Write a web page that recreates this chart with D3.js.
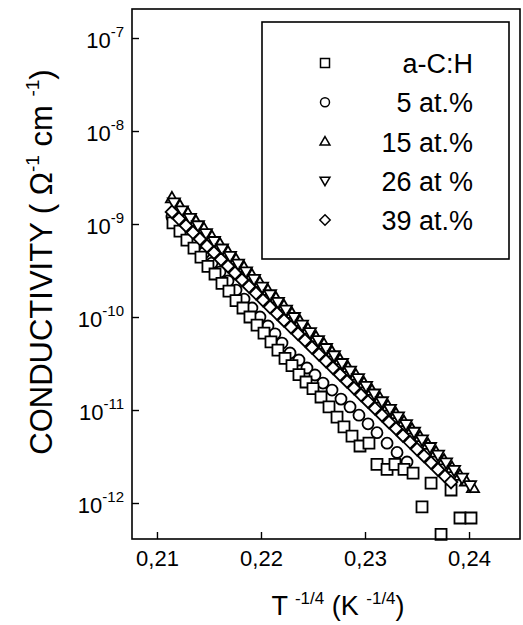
<!DOCTYPE html>
<html lang="en">
<head>
<meta charset="UTF-8">
<script src="https://cdnjs.cloudflare.com/ajax/libs/d3/7.8.5/d3.min.js"></script>
<title>Conductivity</title>
<style>
  body { margin: 0; background: #fff; }
  text { font-family: Arial, "Liberation Sans", sans-serif; fill: #000; }
</style>
</head>
<body>
<div id="chart"></div>
<script>
// x: T^-1/4, y: conductivity (ohm^-1 cm^-1)
const acH_x = [0.21154,0.21221,0.21288,0.21356,0.21423,0.21490,0.21558,0.21625,0.21692,0.21760,0.21827,0.21894,0.21962,0.22029,0.22096,0.22163,0.22231,0.22298,0.22365,0.22433,0.22500,0.22577,0.22654,0.22731,0.22798,0.22875,0.22952,0.23038,0.23115,0.23212,0.23288,0.23375,0.23462,0.23548,0.23635,0.23731,0.23827,0.23913,0.24019];
const acH_y = [1.03e-9,8.4e-10,6.7e-10,5.5e-10,4.4e-10,3.5e-10,2.9e-10,2.3e-10,1.9e-10,1.5e-10,1.25e-10,1.0e-10,8.2e-11,6.7e-11,5.4e-11,4.4e-11,3.6e-11,3.0e-11,2.4e-11,2.0e-11,1.7e-11,1.38e-11,1.08e-11,8.4e-12,6.6e-12,5.25e-12,4.1e-12,4.4e-12,2.6e-12,2.3e-12,2.6e-12,2.3e-12,2.1e-12,9.1e-13,1.64e-12,4.6e-13,1.38e-12,6.9e-13,6.9e-13];

const at5_x = [0.21144,0.21221,0.21298,0.21375,0.21452,0.21529,0.21606,0.21683,0.21760,0.21837,0.21913,0.21990,0.22067,0.22135,0.22202,0.22279,0.22365,0.22442,0.22519,0.22596,0.22683,0.22769,0.22856,0.22942,0.23029,0.23115,0.23212,0.23308,0.23404];
const at5_y = [1.19e-9,9.5e-10,7.6e-10,6.1e-10,4.9e-10,3.8e-10,3.05e-10,2.44e-10,1.95e-10,1.56e-10,1.25e-10,1.0e-10,8.0e-11,6.6e-11,5.25e-11,4.1e-11,3.45e-11,2.83e-11,2.38e-11,1.95e-11,1.64e-11,1.31e-11,1.08e-11,8.8e-12,7.1e-12,5.7e-12,4.4e-12,3.5e-12,2.76e-12];

const at15_x = [0.21144,0.21221,0.21298,0.21375,0.21452,0.21529,0.21606,0.21683,0.21760,0.21837,0.21913,0.21990,0.22067,0.22144,0.22221,0.22298,0.22375,0.22452,0.22529,0.22606,0.22683,0.22760,0.22837,0.22913,0.22990,0.23067,0.23144,0.23221,0.23298,0.23375,0.23452,0.23529,0.23606,0.23683,0.23760,0.23837,0.23913,0.23971,0.24038];
const at15_y = [1.91e-9,1.57e-9,1.30e-9,1.07e-9,8.9e-10,7.3e-10,6.1e-10,5.0e-10,4.14e-10,3.42e-10,2.83e-10,2.34e-10,1.93e-10,1.60e-10,1.32e-10,1.09e-10,9.0e-11,7.4e-11,6.1e-11,5.1e-11,4.2e-11,3.47e-11,2.86e-11,2.37e-11,1.95e-11,1.62e-11,1.34e-11,1.10e-11,9.1e-12,7.5e-12,6.2e-12,5.15e-12,4.26e-12,3.52e-12,2.90e-12,2.40e-12,1.98e-12,1.72e-12,1.46e-12];

const at26_x = [0.21163,0.21240,0.21317,0.21394,0.21471,0.21548,0.21625,0.21702,0.21779,0.21856,0.21933,0.22010,0.22087,0.22163,0.22240,0.22317,0.22394,0.22471,0.22548,0.22625,0.22702,0.22779,0.22856,0.22933,0.23010,0.23087,0.23163,0.23240,0.23317,0.23394,0.23471,0.23548,0.23625,0.23702,0.23779,0.23856,0.23933,0.24010];
const at26_y = [1.69e-9,1.39e-9,1.15e-9,9.6e-10,7.9e-10,6.5e-10,5.4e-10,4.49e-10,3.71e-10,3.07e-10,2.54e-10,2.10e-10,1.74e-10,1.44e-10,1.19e-10,9.9e-11,8.2e-11,6.8e-11,5.6e-11,4.6e-11,3.84e-11,3.17e-11,2.62e-11,2.18e-11,1.80e-11,1.49e-11,1.23e-11,1.02e-11,8.45e-12,6.98e-12,5.78e-12,4.79e-12,3.96e-12,3.28e-12,2.71e-12,2.25e-12,1.86e-12,1.54e-12];

const at39_x = [0.21144,0.21212,0.21279,0.21346,0.21413,0.21481,0.21548,0.21615,0.21683,0.21750,0.21817,0.21885,0.21952,0.22019,0.22087,0.22154,0.22221,0.22288,0.22356,0.22423,0.22490,0.22558,0.22625,0.22692,0.22760,0.22827,0.22894,0.22962,0.23029,0.23096,0.23163,0.23231,0.23298,0.23365,0.23433,0.23500,0.23567,0.23635,0.23702,0.23769,0.23827];
const at39_y = [1.35e-9,1.14e-9,9.6e-10,8.1e-10,6.9e-10,5.8e-10,4.92e-10,4.16e-10,3.52e-10,2.97e-10,2.51e-10,2.13e-10,1.80e-10,1.52e-10,1.28e-10,1.09e-10,9.2e-11,7.8e-11,6.6e-11,5.6e-11,4.7e-11,3.97e-11,3.36e-11,2.84e-11,2.40e-11,2.03e-11,1.72e-11,1.45e-11,1.23e-11,1.04e-11,8.8e-12,7.4e-12,6.3e-12,5.3e-12,4.5e-12,3.79e-12,3.21e-12,2.71e-12,2.29e-12,1.94e-12,1.68e-12];

const seriesNames = ['a-C:H', '5 at.%', '15 at.%', '26 at %', '39 at.%'];
const seriesShapes = ['square', 'circle', 'up', 'down', 'diamond'];
const xTicks = [0.21, 0.22, 0.23, 0.24];
const yExps = [-12, -11, -10, -9, -8, -7];

const width = 523, height = 625;
const pLeft = 132, pRight = 520, pTop = 9, pBottom = 539;

const xScale = d3.scaleLinear().domain([0.2076, 0.2449]).range([pLeft, pRight]);
const yScale = d3.scaleLog().domain([Math.pow(10, -12.387), Math.pow(10, -6.688)]).range([pBottom, pTop]);

// marker paths centred on 0,0
function shapePath(kind, s) {
  const h = s / 2;
  if (kind === 'square') return `M${-h},${-h}H${h}V${h}H${-h}Z`;
  if (kind === 'circle') return `M${h},0A${h},${h} 0 1,1 ${-h},0A${h},${h} 0 1,1 ${h},0Z`;
  if (kind === 'up') return `M0,${-h * 1.1}L${h * 1.1},${h * 0.8}L${-h * 1.1},${h * 0.8}Z`;
  if (kind === 'down') return `M0,${h * 1.1}L${h * 1.1},${-h * 0.8}L${-h * 1.1},${-h * 0.8}Z`;
  return `M0,${-h * 1.15}L${h * 1.15},0L0,${h * 1.15}L${-h * 1.15},0Z`;
}

const svg = d3.select('#chart').append('svg')
  .attr('width', width)
  .attr('height', height);

// data, drawn circles first so squares sit over them
const data = {
  'a-C:H': d3.zip(acH_x, acH_y),
  '5 at.%': d3.zip(at5_x, at5_y),
  '15 at.%': d3.zip(at15_x, at15_y),
  '26 at %': d3.zip(at26_x, at26_y),
  '39 at.%': d3.zip(at39_x, at39_y)
};
const drawOrder = [1, 0, 2, 3, 4];
drawOrder.forEach(i => {
  svg.append('g')
    .selectAll('path')
    .data(data[seriesNames[i]])
    .enter()
    .append('path')
    .attr('transform', d => `translate(${xScale(d[0])},${yScale(d[1])})`)
    .attr('d', shapePath(seriesShapes[i], 11))
    .attr('fill', '#fff')
    .attr('stroke', '#000')
    .attr('stroke-width', 1.8);
});

// frame
svg.append('rect')
  .attr('x', pLeft).attr('y', pTop)
  .attr('width', pRight - pLeft).attr('height', pBottom - pTop)
  .attr('fill', 'none').attr('stroke', '#000').attr('stroke-width', 1.6);

// x axis
const xAxis = svg.append('g')
  .attr('transform', `translate(0,${pBottom})`)
  .call(d3.axisBottom(xScale).tickValues(xTicks).tickSize(-7).tickPadding(11)
    .tickFormat(d => d.toFixed(2).replace('.', ',')));
xAxis.select('.domain').remove();
xAxis.selectAll('line').attr('stroke-width', 1.4);
xAxis.selectAll('text').style('font-size', '22px').style('font-family', 'Arial, "Liberation Sans", sans-serif');

// y axis
const yAxis = svg.append('g')
  .attr('transform', `translate(${pLeft},0)`)
  .call(d3.axisLeft(yScale).tickValues(yExps.map(e => Math.pow(10, e))).tickSize(-7).tickFormat(''));
yAxis.select('.domain').remove();
yAxis.selectAll('line').attr('stroke-width', 1.4);

const yLab = svg.append('g').selectAll('text')
  .data(yExps)
  .enter()
  .append('text')
  .attr('x', 124)
  .attr('y', e => yScale(Math.pow(10, e)) + 10)
  .attr('text-anchor', 'end')
  .style('font-size', '22px');
yLab.append('tspan').text('10');
yLab.append('tspan').attr('dy', -11).style('font-size', '15px').text(e => e);

// axis titles
const xt = svg.append('text')
  .attr('x', 338).attr('y', 615)
  .attr('text-anchor', 'middle')
  .style('font-size', '27px');
xt.append('tspan').text('T ');
xt.append('tspan').attr('dy', -11).style('font-size', '17px').text('-1/4');
xt.append('tspan').attr('dy', 11).text(' (K ');
xt.append('tspan').attr('dy', -11).style('font-size', '17px').text('-1/4');
xt.append('tspan').attr('dy', 11).text(')');

const yt = svg.append('text')
  .attr('transform', `translate(52,262) rotate(-90)`)
  .attr('text-anchor', 'middle')
  .style('font-size', '31px');
yt.append('tspan').text('CONDUCTIVITY ( \u03A9');
yt.append('tspan').attr('dy', -13).style('font-size', '19px').text('-1');
yt.append('tspan').attr('dy', 13).text(' cm ');
yt.append('tspan').attr('dy', -13).style('font-size', '19px').text('-1');
yt.append('tspan').attr('dy', 13).text(')');

// legend
const legend = svg.append('g');
legend.append('rect')
  .attr('x', 262).attr('y', 22)
  .attr('width', 247).attr('height', 237)
  .attr('fill', '#fff').attr('stroke', '#000').attr('stroke-width', 1.6);
const legendY = d3.scalePoint().domain(seriesNames).range([63, 220]);
legend.selectAll('path')
  .data(seriesNames)
  .enter()
  .append('path')
  .attr('transform', d => `translate(325,${legendY(d)})`)
  .attr('d', (d, i) => shapePath(seriesShapes[i], 9))
  .attr('fill', '#fff').attr('stroke', '#000').attr('stroke-width', 1.5);
legend.selectAll('text')
  .data(seriesNames)
  .enter()
  .append('text')
  .attr('x', 473)
  .attr('y', d => legendY(d) + 10)
  .attr('text-anchor', 'end')
  .style('font-size', '27px')
  .text(d => d);
</script>
</body>
</html>
